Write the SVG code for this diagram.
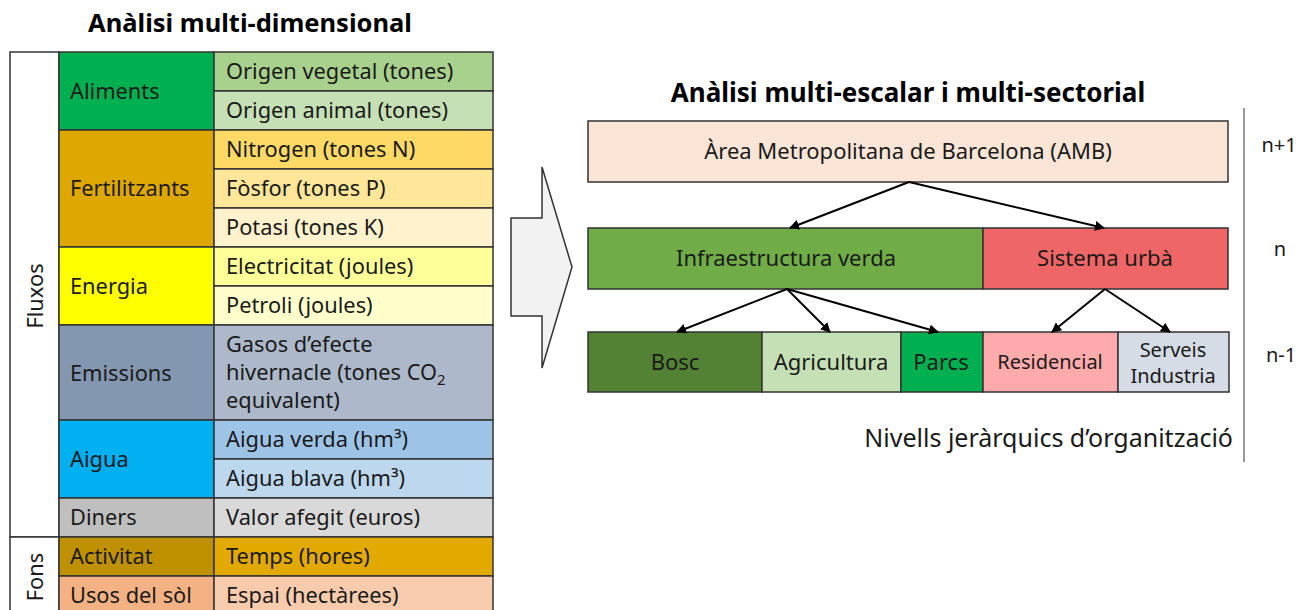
<svg xmlns="http://www.w3.org/2000/svg" width="1298" height="610" viewBox="0 0 1298 610">
  <style>
    text { font-family: "Noto Sans", "Open Sans", "Liberation Sans", sans-serif; fill: #1a1a1a; }
    .title { font-size: 25.5px; font-weight: bold; text-anchor: middle; fill: #000; }
    .cell { stroke: #333; stroke-width: 1.5; }
    .t20 { font-size: 21.8px; }
    .n22 { font-size: 22px; text-anchor: middle; }
    .n20 { font-size: 20px; text-anchor: middle; }
    .lvl { font-size: 20px; text-anchor: middle; }
    .conn { stroke: #000; stroke-width: 2; fill: none; marker-end: url(#head); }
  </style>
  <defs>
    <marker id="head" viewBox="0 0 10 10" refX="9" refY="5" markerWidth="5" markerHeight="5" orient="auto" markerUnits="strokeWidth">
      <path d="M0,0 L10,5 L0,10 z" fill="#000"/>
    </marker>
  </defs>

  <rect width="1298" height="610" fill="#fff"/>

  <!-- Left: multi-dimensional table -->
  <text class="title" x="250" y="32">Anàlisi multi-dimensional</text>

  <g id="table">
    <!-- category column (Fluxos / Fons) -->
    <g id="grp-fluxos">
      <rect class="cell" x="10" y="52" width="49" height="485" fill="#fff"/>
      <text class="t20" transform="translate(43,296) rotate(-90)" text-anchor="middle">Fluxos</text>
    </g>
    <g id="grp-fons">
      <rect class="cell" x="10" y="537" width="49" height="80" fill="#fff"/>
      <text class="t20" transform="translate(43,577) rotate(-90)" text-anchor="middle">Fons</text>
    </g>

    <g id="aliments">
      <rect class="cell" x="59" y="52" width="155" height="78" fill="#00b050"/>
      <text class="t20" x="70" y="99">Aliments</text>
      <rect class="cell" x="214" y="52" width="279" height="39" fill="#a9d18e"/>
      <text class="t20" x="226" y="79">Origen vegetal (tones)</text>
      <rect class="cell" x="214" y="91" width="279" height="39" fill="#c5e0b4"/>
      <text class="t20" x="226" y="118">Origen animal (tones)</text>
    </g>

    <g id="fertilitzants">
      <rect class="cell" x="59" y="130" width="155" height="117" fill="#dfa800"/>
      <text class="t20" x="70" y="196">Fertilitzants</text>
      <rect class="cell" x="214" y="130" width="279" height="39" fill="#ffd966"/>
      <text class="t20" x="226" y="157">Nitrogen (tones N)</text>
      <rect class="cell" x="214" y="169" width="279" height="39" fill="#ffe699"/>
      <text class="t20" x="226" y="196">Fòsfor (tones P)</text>
      <rect class="cell" x="214" y="208" width="279" height="39" fill="#fff2cc"/>
      <text class="t20" x="226" y="235">Potasi (tones K)</text>
    </g>

    <g id="energia">
      <rect class="cell" x="59" y="247" width="155" height="78" fill="#ffff00"/>
      <text class="t20" x="70" y="294">Energia</text>
      <rect class="cell" x="214" y="247" width="279" height="39" fill="#ffff99"/>
      <text class="t20" x="226" y="274">Electricitat (joules)</text>
      <rect class="cell" x="214" y="286" width="279" height="39" fill="#ffffcc"/>
      <text class="t20" x="226" y="313">Petroli (joules)</text>
    </g>

    <g id="emissions">
      <rect class="cell" x="59" y="325" width="155" height="95" fill="#8497b0"/>
      <text class="t20" x="70" y="381">Emissions</text>
      <rect class="cell" x="214" y="325" width="279" height="95" fill="#adb9ca"/>
      <text class="t20" x="226" y="352">Gasos d’efecte</text>
      <text class="t20" x="226" y="380">hivernacle (tones CO<tspan font-size="15" dy="5">2</tspan></text>
      <text class="t20" x="226" y="408">equivalent)</text>
    </g>

    <g id="aigua">
      <rect class="cell" x="59" y="420" width="155" height="78" fill="#00b0f0"/>
      <text class="t20" x="70" y="467">Aigua</text>
      <rect class="cell" x="214" y="420" width="279" height="39" fill="#9dc3e6"/>
      <text class="t20" x="226" y="447">Aigua verda (hm³)</text>
      <rect class="cell" x="214" y="459" width="279" height="39" fill="#bdd7ee"/>
      <text class="t20" x="226" y="486">Aigua blava (hm³)</text>
    </g>

    <g id="diners">
      <rect class="cell" x="59" y="498" width="155" height="39" fill="#bfbfbf"/>
      <text class="t20" x="70" y="525">Diners</text>
      <rect class="cell" x="214" y="498" width="279" height="39" fill="#d9d9d9"/>
      <text class="t20" x="226" y="525">Valor afegit (euros)</text>
    </g>

    <g id="activitat">
      <rect class="cell" x="59" y="537" width="155" height="39" fill="#bf9000"/>
      <text class="t20" x="70" y="564">Activitat</text>
      <rect class="cell" x="214" y="537" width="279" height="39" fill="#e2aa00"/>
      <text class="t20" x="226" y="564">Temps (hores)</text>
    </g>

    <g id="usos">
      <rect class="cell" x="59" y="576" width="155" height="41" fill="#f4b183"/>
      <text class="t20" x="70" y="603">Usos del sòl</text>
      <rect class="cell" x="214" y="576" width="279" height="41" fill="#f8cbad"/>
      <text class="t20" x="226" y="603">Espai (hectàrees)</text>
    </g>
  </g>

  <!-- Block arrow between the two panels -->
  <g id="block-arrow">
    <path d="M511,218 L542,218 L542,167 L572,267 L542,368 L542,316 L511,316 Z" fill="#f2f2f2" stroke="#333" stroke-width="1.5" stroke-linejoin="miter"/>
  </g>

  <!-- Right: multi-scale hierarchy -->
  <text class="title" x="908" y="102" style="font-size:26px">Anàlisi multi-escalar i multi-sectorial</text>

  <g id="amb">
    <rect class="cell" x="588" y="121" width="640" height="61" fill="#fbe5d6"/>
    <text class="n22" x="908" y="159">Àrea Metropolitana de Barcelona (AMB)</text>
  </g>

  <g id="infraestructura">
    <rect class="cell" x="588" y="228" width="395" height="61" fill="#70ad47"/>
    <text class="n22" x="786" y="266">Infraestructura verda</text>
  </g>
  <g id="sistema-urba">
    <rect class="cell" x="983" y="228" width="245" height="61" fill="#ef6666"/>
    <text class="n22" x="1105" y="266">Sistema urbà</text>
  </g>

  <g id="bosc">
    <rect class="cell" x="588" y="332" width="174" height="60" fill="#548235"/>
    <text class="n22" x="675" y="370">Bosc</text>
  </g>
  <g id="agricultura">
    <rect class="cell" x="762" y="332" width="139" height="60" fill="#c5e0b4"/>
    <text class="n22" x="831" y="370">Agricultura</text>
  </g>
  <g id="parcs">
    <rect class="cell" x="901" y="332" width="82" height="60" fill="#00b050"/>
    <text class="n22" x="941" y="370">Parcs</text>
  </g>
  <g id="residencial">
    <rect class="cell" x="983" y="332" width="135" height="60" fill="#ffabab"/>
    <text class="n20" x="1050" y="369">Residencial</text>
  </g>
  <g id="serveis">
    <rect class="cell" x="1118" y="332" width="111" height="60" fill="#d6dce5"/>
    <text class="n20" x="1173" y="357">Serveis</text>
    <text class="n20" x="1173" y="383">Industria</text>
  </g>

  <g id="connectors">
    <line class="conn" x1="909" y1="182" x2="790" y2="228"/>
    <line class="conn" x1="909" y1="182" x2="1104" y2="228"/>
    <line class="conn" x1="787" y1="289" x2="677" y2="332"/>
    <line class="conn" x1="787" y1="289" x2="830" y2="332"/>
    <line class="conn" x1="787" y1="289" x2="938" y2="332"/>
    <line class="conn" x1="1105" y1="289" x2="1052" y2="332"/>
    <line class="conn" x1="1105" y1="289" x2="1170" y2="332"/>
  </g>

  <!-- Level axis -->
  <g id="levels">
    <line x1="1244" y1="108" x2="1244" y2="462" stroke="#555" stroke-width="1.2"/>
    <text class="lvl" x="1279" y="152">n+1</text>
    <text class="lvl" x="1280" y="256">n</text>
    <text class="lvl" x="1281" y="362">n-1</text>
    <text font-size="25" x="1233" y="447" text-anchor="end">Nivells jeràrquics d’organització</text>
  </g>
</svg>
